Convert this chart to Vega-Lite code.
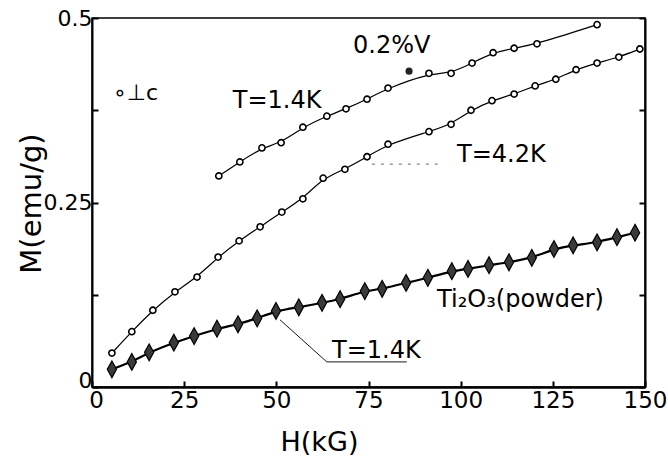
{
  "$schema": "https://vega.github.io/schema/vega-lite/v6.json",
  "width": 553,
  "height": 369,
  "autosize": "none",
  "padding": {"left": 92, "top": 18, "right": 23, "bottom": 69},
  "background": "white",
  "config": {
    "view": {"stroke": "black", "strokeWidth": 1.5},
    "font": "DejaVu Sans",
    "axis": {
      "grid": false,
      "domainColor": "black",
      "tickColor": "black",
      "labelColor": "black",
      "titleColor": "black",
      "labelFont": "DejaVu Sans",
      "titleFont": "DejaVu Sans",
      "labelFontWeight": "normal",
      "titleFontWeight": "normal"
    }
  },
  "datasets": {
    "curves": [
      {"series": "0.2%V T=1.4K", "H": 34.4, "M": 0.286},
      {"series": "0.2%V T=1.4K", "H": 40.1, "M": 0.305},
      {"series": "0.2%V T=1.4K", "H": 46.1, "M": 0.324},
      {"series": "0.2%V T=1.4K", "H": 51.3, "M": 0.331},
      {"series": "0.2%V T=1.4K", "H": 57.2, "M": 0.352},
      {"series": "0.2%V T=1.4K", "H": 63.7, "M": 0.367},
      {"series": "0.2%V T=1.4K", "H": 68.9, "M": 0.377},
      {"series": "0.2%V T=1.4K", "H": 74.6, "M": 0.390},
      {"series": "0.2%V T=1.4K", "H": 80.3, "M": 0.405},
      {"series": "0.2%V T=1.4K", "H": 91.4, "M": 0.425},
      {"series": "0.2%V T=1.4K", "H": 97.4, "M": 0.425},
      {"series": "0.2%V T=1.4K", "H": 103.1, "M": 0.439},
      {"series": "0.2%V T=1.4K", "H": 108.8, "M": 0.453},
      {"series": "0.2%V T=1.4K", "H": 114.5, "M": 0.459},
      {"series": "0.2%V T=1.4K", "H": 120.7, "M": 0.465},
      {"series": "0.2%V T=1.4K", "H": 137.0, "M": 0.491},
      {"series": "0.2%V T=4.2K", "H": 5.4, "M": 0.046},
      {"series": "0.2%V T=4.2K", "H": 10.8, "M": 0.075},
      {"series": "0.2%V T=4.2K", "H": 16.5, "M": 0.104},
      {"series": "0.2%V T=4.2K", "H": 22.5, "M": 0.129},
      {"series": "0.2%V T=4.2K", "H": 28.5, "M": 0.149},
      {"series": "0.2%V T=4.2K", "H": 34.2, "M": 0.176},
      {"series": "0.2%V T=4.2K", "H": 39.9, "M": 0.198},
      {"series": "0.2%V T=4.2K", "H": 45.6, "M": 0.217},
      {"series": "0.2%V T=4.2K", "H": 51.5, "M": 0.237},
      {"series": "0.2%V T=4.2K", "H": 57.2, "M": 0.255},
      {"series": "0.2%V T=4.2K", "H": 62.7, "M": 0.283},
      {"series": "0.2%V T=4.2K", "H": 68.6, "M": 0.295},
      {"series": "0.2%V T=4.2K", "H": 74.6, "M": 0.312},
      {"series": "0.2%V T=4.2K", "H": 80.3, "M": 0.329},
      {"series": "0.2%V T=4.2K", "H": 91.4, "M": 0.346},
      {"series": "0.2%V T=4.2K", "H": 97.4, "M": 0.356},
      {"series": "0.2%V T=4.2K", "H": 102.8, "M": 0.375},
      {"series": "0.2%V T=4.2K", "H": 108.5, "M": 0.388},
      {"series": "0.2%V T=4.2K", "H": 114.5, "M": 0.397},
      {"series": "0.2%V T=4.2K", "H": 120.2, "M": 0.408},
      {"series": "0.2%V T=4.2K", "H": 125.8, "M": 0.417},
      {"series": "0.2%V T=4.2K", "H": 131.3, "M": 0.430},
      {"series": "0.2%V T=4.2K", "H": 137.0, "M": 0.439},
      {"series": "0.2%V T=4.2K", "H": 142.9, "M": 0.447},
      {"series": "0.2%V T=4.2K", "H": 148.6, "M": 0.458},
      {"series": "Ti2O3 powder T=1.4K", "H": 5.4, "M": 0.024},
      {"series": "Ti2O3 powder T=1.4K", "H": 10.8, "M": 0.034},
      {"series": "Ti2O3 powder T=1.4K", "H": 15.5, "M": 0.047},
      {"series": "Ti2O3 powder T=1.4K", "H": 22.2, "M": 0.060},
      {"series": "Ti2O3 powder T=1.4K", "H": 27.7, "M": 0.069},
      {"series": "Ti2O3 powder T=1.4K", "H": 33.9, "M": 0.079},
      {"series": "Ti2O3 powder T=1.4K", "H": 39.6, "M": 0.085},
      {"series": "Ti2O3 powder T=1.4K", "H": 44.8, "M": 0.093},
      {"series": "Ti2O3 powder T=1.4K", "H": 49.9, "M": 0.103},
      {"series": "Ti2O3 powder T=1.4K", "H": 56.1, "M": 0.108},
      {"series": "Ti2O3 powder T=1.4K", "H": 62.4, "M": 0.114},
      {"series": "Ti2O3 powder T=1.4K", "H": 67.3, "M": 0.119},
      {"series": "Ti2O3 powder T=1.4K", "H": 74.0, "M": 0.130},
      {"series": "Ti2O3 powder T=1.4K", "H": 78.7, "M": 0.133},
      {"series": "Ti2O3 powder T=1.4K", "H": 85.2, "M": 0.141},
      {"series": "Ti2O3 powder T=1.4K", "H": 91.1, "M": 0.148},
      {"series": "Ti2O3 powder T=1.4K", "H": 97.6, "M": 0.157},
      {"series": "Ti2O3 powder T=1.4K", "H": 102.0, "M": 0.160},
      {"series": "Ti2O3 powder T=1.4K", "H": 107.7, "M": 0.165},
      {"series": "Ti2O3 powder T=1.4K", "H": 113.1, "M": 0.169},
      {"series": "Ti2O3 powder T=1.4K", "H": 119.3, "M": 0.175},
      {"series": "Ti2O3 powder T=1.4K", "H": 125.3, "M": 0.187},
      {"series": "Ti2O3 powder T=1.4K", "H": 130.5, "M": 0.192},
      {"series": "Ti2O3 powder T=1.4K", "H": 137.0, "M": 0.196},
      {"series": "Ti2O3 powder T=1.4K", "H": 142.4, "M": 0.203},
      {"series": "Ti2O3 powder T=1.4K", "H": 147.3, "M": 0.209}
    ],
    "dot": [{"H": 86.0, "M": 0.428}],
    "leaders": [
      {"leader": "T=1.4K", "H": 51.0, "M": 0.091},
      {"leader": "T=1.4K", "H": 63.7, "M": 0.034},
      {"leader": "T=1.4K", "H": 85.4, "M": 0.034}
    ],
    "dashed": [
      {"leader": "T=4.2K", "H": 75.9, "M": 0.302},
      {"leader": "T=4.2K", "H": 95.2, "M": 0.302}
    ],
    "labels": [
      {"H": 38.2, "M": 0.378, "text": "T=1.4K"},
      {"H": 70.8, "M": 0.453, "text": "0.2%V"},
      {"H": 99.0, "M": 0.305, "text": "T=4.2K"},
      {"H": 93.6, "M": 0.108, "text": "Ti₂O₃(powder)"},
      {"H": 65.1, "M": 0.039, "text": "T=1.4K"}
    ],
    "orient": [{"H": 5.7, "M": 0.389, "text": "∘⊥c"}]
  },
  "layer": [
    {
      "data": {"name": "curves"},
      "transform": [{"filter": "datum.series != 'Ti2O3 powder T=1.4K'"}],
      "mark": {"type": "line", "interpolate": "basis", "color": "black", "strokeWidth": 1.2},
      "encoding": {
        "x": {
          "field": "H", "type": "quantitative",
          "scale": {"domain": [0, 150], "nice": false},
          "axis": {
            "values": [0, 25, 50, 75, 100, 125, 150],
            "tickSize": -6, "tickWidth": 2, "domainWidth": 2.5,
            "labelFontSize": 23, "labelPadding": 8, "labelFlush": false,
            "labelOffset": {"condition": {"test": "datum.value == 0", "value": 4}, "value": 0},
            "title": "H(kG)", "titleFontSize": 27,
            "titleX": 227, "titleY": 63, "titleBaseline": "alphabetic", "titleAlign": "center"
          }
        },
        "y": {
          "field": "M", "type": "quantitative",
          "scale": {"domain": [0, 0.5], "nice": false},
          "axis": {
            "values": [0, 0.125, 0.25, 0.375, 0.5],
            "labelExpr": "datum.value == 0 ? '0' : datum.value == 0.25 ? '0.25' : datum.value == 0.5 ? '0.5' : ''",
            "labelBaseline": {"condition": {"test": "datum.value == 0", "value": "alphabetic"}, "value": "middle"},
            "tickSize": -6, "tickWidth": 2, "domainWidth": 2,
            "labelFontSize": 22, "labelPadding": 6, "labelFlush": false,
            "title": "M(emu/g)", "titleFontSize": 29,
            "titleAngle": -90, "titleX": -46, "titleY": 185,
            "titleAlign": "center", "titleBaseline": "bottom"
          }
        },
        "detail": {"field": "series"}
      }
    },
    {
      "data": {"name": "curves"},
      "transform": [{"filter": "datum.series == 'Ti2O3 powder T=1.4K'"}],
      "mark": {"type": "line", "interpolate": "basis", "color": "black", "strokeWidth": 2.2},
      "encoding": {
        "x": {"field": "H", "type": "quantitative"},
        "y": {
          "field": "M", "type": "quantitative",
          "axis": {
            "orient": "right", "values": [0, 0.125, 0.25, 0.375, 0.5],
            "labels": false, "title": null, "tickSize": -6, "tickWidth": 2, "domainWidth": 2
          }
        }
      }
    },
    {
      "data": {"name": "curves"},
      "transform": [{"filter": "datum.series != 'Ti2O3 powder T=1.4K'"}],
      "mark": {"type": "point", "shape": "circle", "filled": true, "fill": "white", "stroke": "black", "strokeWidth": 1.6, "size": 38, "opacity": 1},
      "encoding": {
        "x": {"field": "H", "type": "quantitative"},
        "y": {"field": "M", "type": "quantitative", "axis": null}
      }
    },
    {
      "data": {"name": "curves"},
      "transform": [{"filter": "datum.series == 'Ti2O3 powder T=1.4K'"}],
      "mark": {"type": "point", "shape": "M0,-1L0.55,0L0,1L-0.55,0Z", "filled": true, "fill": "#3a3a3a", "stroke": "black", "strokeWidth": 1.2, "size": 280, "opacity": 1},
      "encoding": {
        "x": {"field": "H", "type": "quantitative"},
        "y": {"field": "M", "type": "quantitative", "axis": null}
      }
    },
    {
      "data": {"name": "dot"},
      "mark": {"type": "point", "shape": "circle", "filled": true, "color": "#222", "size": 50, "opacity": 1},
      "encoding": {
        "x": {"field": "H", "type": "quantitative"},
        "y": {"field": "M", "type": "quantitative", "axis": null}
      }
    },
    {
      "data": {"name": "leaders"},
      "mark": {"type": "line", "color": "black", "strokeWidth": 0.9},
      "encoding": {
        "x": {"field": "H", "type": "quantitative"},
        "y": {"field": "M", "type": "quantitative", "axis": null},
        "order": {"field": "H"}
      }
    },
    {
      "data": {"name": "dashed"},
      "mark": {"type": "line", "color": "#555", "strokeWidth": 0.9, "strokeDash": [3, 6]},
      "encoding": {
        "x": {"field": "H", "type": "quantitative"},
        "y": {"field": "M", "type": "quantitative", "axis": null}
      }
    },
    {
      "data": {"name": "labels"},
      "mark": {"type": "text", "align": "left", "baseline": "alphabetic", "font": "DejaVu Sans", "fontSize": 24, "color": "black"},
      "encoding": {
        "x": {"field": "H", "type": "quantitative"},
        "y": {"field": "M", "type": "quantitative", "axis": null},
        "text": {"field": "text"}
      }
    },
    {
      "data": {"name": "orient"},
      "mark": {"type": "text", "align": "left", "baseline": "alphabetic", "font": "DejaVu Sans", "fontSize": 22, "color": "black"},
      "encoding": {
        "x": {"field": "H", "type": "quantitative"},
        "y": {"field": "M", "type": "quantitative", "axis": null},
        "text": {"field": "text"}
      }
    }
  ],
  "resolve": {"axis": {"y": "independent"}}
}
